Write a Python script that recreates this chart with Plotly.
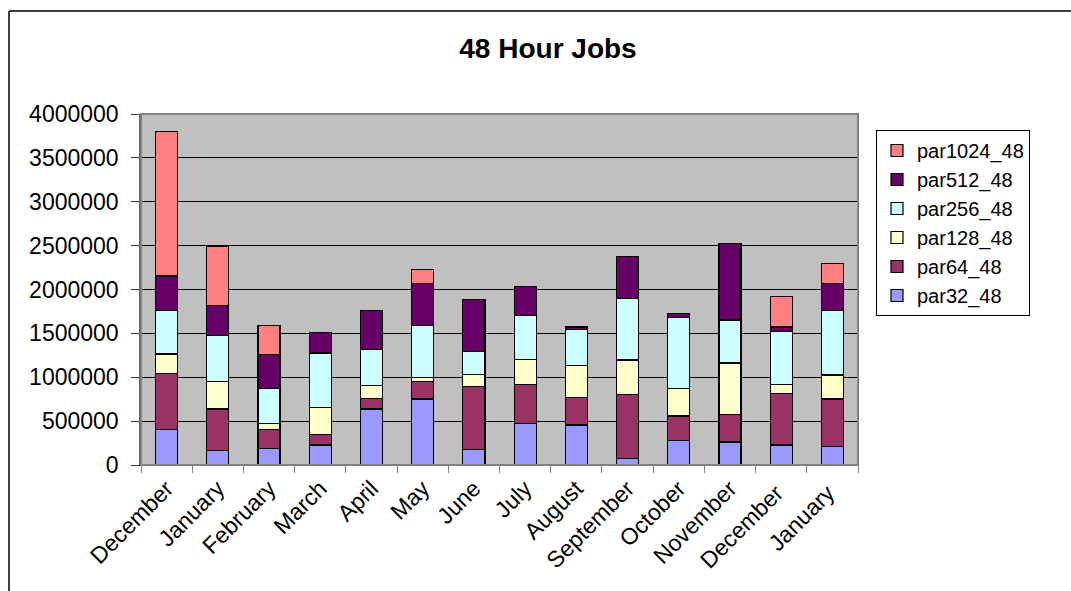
import plotly.graph_objects as go

# Monthly core-hours for 48-hour jobs, split by partition size
months = ["December", "January", "February", "March", "April", "May", "June",
          "July", "August", "September", "October", "November", "December ", "January "]

par32_48 = [406000, 163000, 190000, 228000, 638000, 752000, 178000,
            475000, 456000, 76000, 277000, 262000, 228000, 209000]
par64_48 = [638000, 475000, 216000, 118000, 118000, 197000, 721000,
            440000, 311000, 725000, 281000, 311000, 589000, 543000]
par128_48 = [220000, 311000, 68000, 308000, 148000, 49000, 129000,
             285000, 365000, 395000, 311000, 589000, 103000, 273000]
par256_48 = [494000, 524000, 395000, 623000, 410000, 589000, 262000,
             501000, 410000, 702000, 816000, 490000, 604000, 740000]
par512_48 = [395000, 346000, 391000, 232000, 444000, 478000, 596000,
             334000, 30000, 482000, 38000, 873000, 49000, 300000]
par1024_48 = [1644000, 668000, 327000, 0, 0, 163000, 0,
              0, 0, 0, 0, 0, 346000, 228000]

series = [
    ("par32_48", par32_48, "#9999FF"),
    ("par64_48", par64_48, "#993366"),
    ("par128_48", par128_48, "#FFFFCC"),
    ("par256_48", par256_48, "#CCFFFF"),
    ("par512_48", par512_48, "#660066"),
    ("par1024_48", par1024_48, "#FF8080"),
]

FONT = "Liberation Sans, Arial, sans-serif"

fig = go.Figure()
for name, vals, color in series:
    fig.add_trace(go.Bar(
        x=months, y=vals, name=name,
        marker=dict(color=color, line=dict(color="black", width=1.2)),
    ))

W, H = 1071, 591
L, R, T, B = 141, 213, 114, 126
pw, ph = W - L - R, H - T - B


def px_x(x):
    return (x - L) / pw


def px_y(y):
    return (H - B - y) / ph


fig.update_layout(
    width=W, height=H,
    margin=dict(l=L, r=R, t=T, b=B),
    barmode="stack",
    bargap=0.57,
    plot_bgcolor="#C0C0C0",
    paper_bgcolor="white",
    font=dict(family=FONT, size=23, color="black"),
    title=dict(text="<b>48 Hour Jobs</b>", font=dict(family=FONT, size=28),
               x=548 / W, xref="container", xanchor="center",
               y=1 - 48 / H, yref="container", yanchor="middle"),
    legend=dict(
        x=px_x(876), y=px_y(130), xanchor="left", yanchor="top",
        traceorder="reversed",
        bgcolor="white", bordercolor="black", borderwidth=1,
        font=dict(family=FONT, size=20),
        itemwidth=30,
    ),
    showlegend=True,
    xaxis=dict(
        type="category",
        tickangle=-45,
        tickson="boundaries",
        ticks="outside", ticklen=7, tickcolor="#808080",
        showgrid=False,
        showline=True, linecolor="black", linewidth=1,
        tickfont=dict(family=FONT, size=23),
    ),
    yaxis=dict(
        range=[0, 4000000],
        dtick=500000,
        tickformat="d",
        ticks="outside", ticklen=8, tickcolor="#404040",
        ticklabelstandoff=8,
        showgrid=True, gridcolor="black", gridwidth=1,
        showline=True, linecolor="#606060", linewidth=1.5,
        zeroline=False,
        tickfont=dict(family=FONT, size=23),
    ),
    shapes=[
        # plot area frame (top and right edges)
        dict(type="rect", xref="paper", yref="paper", x0=0, x1=1, y0=0, y1=1,
             line=dict(color="#808080", width=2), layer="above"),
        # outer chart border
        dict(type="line", xref="paper", yref="paper",
             x0=px_x(9), x1=px_x(9), y0=px_y(600), y1=px_y(11),
             line=dict(color="black", width=1.5)),
        dict(type="line", xref="paper", yref="paper",
             x0=px_x(9), x1=px_x(1080), y0=px_y(11), y1=px_y(11),
             line=dict(color="black", width=1.5)),
    ],
)

fig.write_html("out.html")
